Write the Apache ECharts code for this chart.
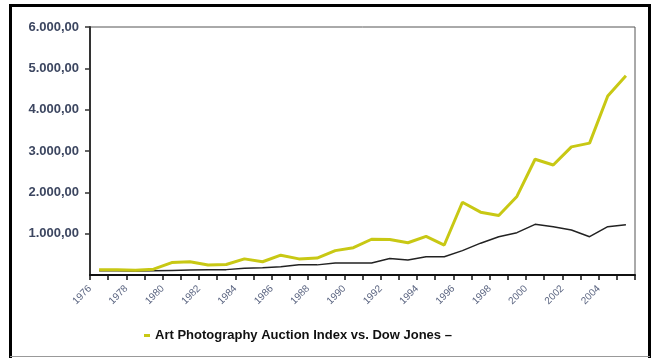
<!DOCTYPE html>
<html>
<head>
<meta charset="utf-8">
<title>Art Photography Auction Index vs. Dow Jones</title>
<script src="https://cdn.jsdelivr.net/npm/echarts@6/dist/echarts.min.js"></script>
<style>
  html, body { margin: 0; padding: 0; background: #fff; }
  #chart { width: 656px; height: 358px; }
</style>
</head>
<body>
<div id="chart"></div>
<script>
// years on the category axis
var years = ['1976','1977','1978','1979','1980','1981','1982','1983','1984','1985',
             '1986','1987','1988','1989','1990','1991','1992','1993','1994','1995',
             '1996','1997','1998','1999','2000','2001','2002','2003','2004','2005'];

// art photography auction index (yellow)
var artIndex = [125, 125, 115, 140, 300, 320, 240, 255, 390, 320,
                480, 390, 410, 590, 660, 865, 860, 780, 935, 725,
                1760, 1520, 1440, 1900, 2800, 2660, 3100, 3190, 4330, 4820];

// dow jones (black)
var dowJones = [100, 100, 95, 100, 110, 120, 125, 130, 165, 175,
                200, 250, 245, 290, 290, 290, 400, 365, 440, 440,
                590, 770, 927, 1024, 1226, 1170, 1089, 927, 1170, 1218];

var legendName = 'Art Photography Auction Index vs. Dow Jones \u2013';

function fmtNum(v) {
    // 6000 -> "6.000,00"
    var s = String(Math.round(v));
    s = s.replace(/\B(?=(\d{3})+(?!\d))/g, '.');
    return s + ',00';
}

var myChart = echarts.init(document.getElementById('chart'));

var option = {
    animation: false,
    backgroundColor: '#fff',
    grid: {
        left: 90,
        right: 21,
        top: 27,
        bottom: 83,
        show: true,
        borderColor: '#555',
        borderWidth: 1
    },
    legend: {
        left: 139,
        top: 324,
        data: [{ name: legendName, icon: 'rect' }],
        itemWidth: 6,
        itemHeight: 3,
        textStyle: {
            fontFamily: 'Liberation Sans, Arial, sans-serif',
            fontWeight: 'bold',
            fontSize: 13,
            color: '#111'
        }
    },
    xAxis: [
        {
            // the category axis that carries the lines and ticks
            type: 'category',
            data: years,
            boundaryGap: true,
            axisLine: { lineStyle: { color: '#111', width: 2 } },
            axisTick: { show: true, interval: 0, length: 5, lineStyle: { color: '#111', width: 1.5 } },
            axisLabel: { show: false },
            splitLine: { show: false }
        },
        {
            // year labels sit on the tick marks (band edges) in the original
            type: 'value',
            position: 'bottom',
            min: 0,
            max: years.length,
            interval: 2,
            axisLine: { show: false },
            axisTick: { show: false },
            splitLine: { show: false },
            axisLabel: {
                showMaxLabel: false,
                rotate: 45,
                margin: 12,
                fontFamily: 'Liberation Sans, Arial, sans-serif',
                fontSize: 10,
                color: '#5a6480',
                formatter: function (v) { return years[v] || ''; }
            }
        }
    ],
    yAxis: {
        type: 'value',
        min: 0,
        max: 6000,
        interval: 1000,
        axisLine: { show: true, lineStyle: { color: '#333', width: 2 } },
        axisTick: { show: true, length: 5, lineStyle: { color: '#333', width: 1.5 } },
        axisLabel: {
            showMinLabel: false,
            margin: 11,
            fontFamily: 'Liberation Sans, Arial, sans-serif',
            fontWeight: 'bold',
            fontSize: 13,
            color: '#3c4660',
            formatter: fmtNum
        },
        splitLine: { show: false }
    },
    series: [
        {
            name: 'Dow Jones',
            type: 'line',
            data: dowJones,
            symbol: 'none',
            z: 2,
            lineStyle: { color: '#222', width: 1.5 },
            itemStyle: { color: '#222' }
        },
        {
            name: legendName,
            type: 'line',
            data: artIndex,
            symbol: 'none',
            z: 3,
            lineStyle: { color: '#c8c814', width: 3 },
            itemStyle: { color: '#c8c814' }
        }
    ],
    graphic: [
        {
            type: 'polyline',
            shape: { points: [[10.5, 358], [10.5, 5.5], [649.5, 5.5], [649.5, 358]] },
            style: { fill: null, stroke: '#000', lineWidth: 3 },
            silent: true
        },
        {
            type: 'line',
            shape: { x1: 10, y1: 356.5, x2: 650, y2: 356.5 },
            style: { stroke: '#999', lineWidth: 1 },
            silent: true
        }
    ]
};

myChart.setOption(option);
</script>
</body>
</html>
